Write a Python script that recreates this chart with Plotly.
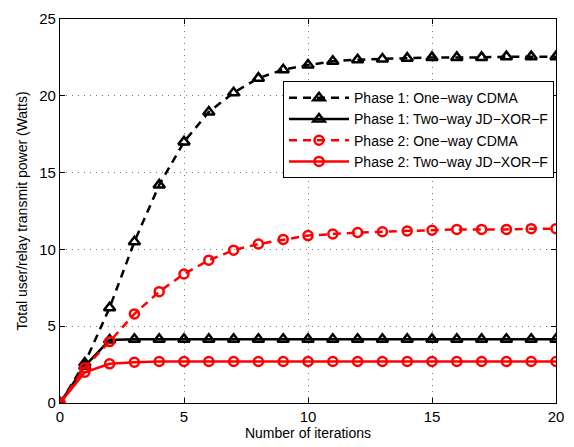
import plotly.graph_objects as go

# Iteration index
iterations = list(range(0, 21))

# Total transmit power (Watts) per scheme
p1_oneway = [0, 2.6, 6.2, 10.5, 14.2, 17.0, 18.95, 20.2, 21.15, 21.7, 22.0, 22.25,
             22.35, 22.4, 22.45, 22.5, 22.5, 22.5, 22.55, 22.55, 22.55]
p1_twoway = [0, 2.4, 4.1, 4.15, 4.15, 4.15, 4.15, 4.15, 4.15, 4.15, 4.15, 4.15,
             4.15, 4.15, 4.15, 4.15, 4.15, 4.15, 4.15, 4.15, 4.15]
p2_oneway = [0, 2.3, 4.0, 5.8, 7.25, 8.4, 9.3, 9.95, 10.35, 10.65, 10.9, 11.0,
             11.1, 11.15, 11.2, 11.25, 11.3, 11.3, 11.3, 11.35, 11.35]
p2_twoway = [0, 2.0, 2.55, 2.65, 2.7, 2.7, 2.7, 2.7, 2.7, 2.7, 2.7, 2.7,
             2.7, 2.7, 2.7, 2.7, 2.7, 2.7, 2.7, 2.7, 2.7]

names = ["Phase 1: One−way CDMA", "Phase 1: Two−way JD−XOR−F",
         "Phase 2: One−way CDMA", "Phase 2: Two−way JD−XOR−F"]

x_ticks = [0, 5, 10, 15, 20]
y_ticks = [0, 5, 10, 15, 20, 25]

FONT = "Liberation Sans, Arial, Helvetica, sans-serif"

fig = go.Figure()

series = [
    (p1_oneway, names[0], "black", "dash", "triangle-up-open", 10),
    (p1_twoway, names[1], "black", "solid", "triangle-up-open", 10),
    (p2_oneway, names[2], "red", "dash", "circle-open", 9),
    (p2_twoway, names[3], "red", "solid", "circle-open", 9),
]

for ys, name, color, dash, symbol, msize in series:
    fig.add_trace(go.Scatter(
        x=iterations, y=ys, name=name, mode="lines+markers",
        line=dict(color=color, width=2.5, dash="8px,6px" if dash == "dash" else "solid"),
        marker=dict(symbol=symbol, size=msize, color=color,
                    line=dict(color=color, width=2.5)),
    ))

axis_common = dict(
    showline=True, linecolor="black", linewidth=1.2, mirror="ticks",
    ticks="inside", ticklen=5, tickcolor="black",
    showgrid=True, gridcolor="#7a7a7a", griddash="1px,5px", gridwidth=1,
    zeroline=False, tickfont=dict(family=FONT, size=15, color="black"),
)

fig.update_xaxes(range=[0, 20], tickvals=x_ticks,
                 title=dict(text="Number of iterations", font=dict(family=FONT, size=14, color="black"),
                            standoff=2),
                 **axis_common)
fig.update_yaxes(range=[0, 25], tickvals=y_ticks,
                 title=dict(text="Total user/relay transmit power (Watts)",
                            font=dict(family=FONT, size=14, color="black"), standoff=8),
                 **axis_common)

fig.update_layout(
    width=574, height=447,
    margin=dict(l=60, r=17, t=10, b=44),
    plot_bgcolor="white", paper_bgcolor="white",
    font=dict(family=FONT, size=14, color="black"),
    legend=dict(x=0.996, y=0.838, xanchor="right", yanchor="top",
                bgcolor="white", bordercolor="black", borderwidth=1,
                font=dict(family=FONT, size=14, color="black"),
                itemwidth=60, tracegroupgap=1),
    showlegend=True,
)

fig.write_html("out.html")
